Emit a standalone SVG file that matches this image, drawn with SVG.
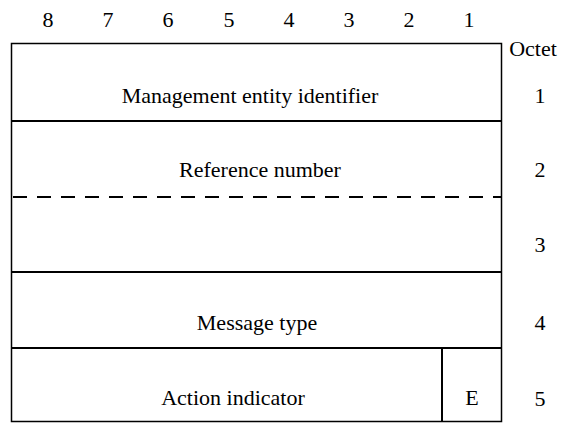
<svg xmlns="http://www.w3.org/2000/svg" width="568" height="423" viewBox="0 0 568 423">
  <style>
    text { font-family: "Liberation Serif", "Times New Roman", serif; font-size: 22px; fill: #000; text-anchor: middle; }
    .frame { fill: none; stroke: #000; stroke-width: 1.5; }
    .rule { stroke: #000; stroke-width: 2; }
    .dash { stroke: #000; stroke-width: 2; stroke-dasharray: 14 10; }
  </style>
  <rect width="568" height="423" fill="#fff"/>

  <!-- bit numbering -->
  <g id="bits">
    <text x="48" y="27">8</text>
    <text x="108" y="27">7</text>
    <text x="168" y="27">6</text>
    <text x="229" y="27">5</text>
    <text x="289" y="27">4</text>
    <text x="349" y="27">3</text>
    <text x="409" y="27">2</text>
    <text x="469" y="27">1</text>
  </g>

  <!-- octet numbering -->
  <g id="octets">
    <text x="533" y="56">Octet</text>
    <text x="540" y="103">1</text>
    <text x="540" y="177">2</text>
    <text x="540" y="252">3</text>
    <text x="540" y="330">4</text>
    <text x="540" y="406">5</text>
  </g>

  <!-- outer frame and field separators -->
  <g id="frame">
    <rect class="frame" x="11.5" y="43.5" width="490" height="378"/>
    <line class="rule" x1="11" y1="121" x2="502" y2="121"/>
    <line class="dash" x1="13" y1="197" x2="502" y2="197"/>
    <line class="rule" x1="11" y1="272" x2="502" y2="272"/>
    <line class="rule" x1="11" y1="348" x2="502" y2="348"/>
    <line class="rule" x1="442" y1="348" x2="442" y2="422"/>
  </g>

  <g id="mgmt-entity-id"><text x="250" y="103">Management entity identifier</text></g>
  <g id="reference-number"><text x="260" y="177">Reference number</text></g>
  <g id="message-type"><text x="257" y="330">Message type</text></g>
  <g id="action-indicator"><text x="233" y="405">Action indicator</text></g>
  <g id="ext-bit"><text x="472" y="405">E</text></g>
</svg>
